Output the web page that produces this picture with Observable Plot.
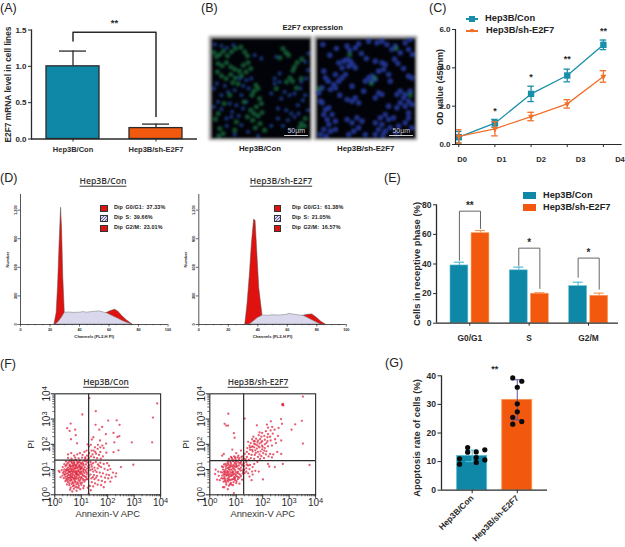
<!DOCTYPE html>
<html><head><meta charset="utf-8">
<script src="https://cdn.jsdelivr.net/npm/d3@7"></script>
<script src="https://cdn.jsdelivr.net/npm/@observablehq/plot@0.6"></script>
<style>
html,body{margin:0;padding:0;background:#fff}
#page{position:relative;width:625px;height:547px;overflow:hidden;font-family:"Liberation Sans",sans-serif;color:#222}
#page svg{position:absolute;background:transparent}
.t{position:absolute;white-space:nowrap;line-height:1}
.c{transform:translate(-50%,-50%)}
.l{transform:translateY(-50%)}
.b{font-weight:bold}
.u{font-family:"Open Sans",sans-serif;font-weight:600;text-decoration:underline;text-underline-offset:1.5px;color:#333}
</style></head><body><div id="page"></div>
<script>
// ---------- shared labels ----------
const groups = ["Hep3B/Con", "Hep3B/sh-E2F7"];
const teal = "#0f87a6", orange = "#f2590f", ink = "#2a2a2a";
const panelLetters = ["(A)", "(B)", "(C)", "(D)", "(E)", "(F)", "(G)"];

// ---------- A: E2F7 mRNA ----------
const mrnaMean = [1.0, 0.15];
const mrnaErr = [0.21, 0.055];

// ---------- B: micrographs, cell positions in the field (0-298 wide, 0-300 high) ----------
const conGreen = [[8,42],[15,55],[25,48],[36,38],[48,52],[60,40],[72,30],[88,26],[100,40],[108,52],[20,75],[32,82],[45,72],[58,85],[70,92],[84,98],[96,80],[110,72],[18,100],[30,112],[44,120],[58,108],[72,118],[90,112],[104,100],[118,90],[64,132],[80,136],[134,140],[140,150],[128,158],[122,170],[145,180],[150,195],[135,205],[118,215],[128,225],[140,232],[152,222],[108,235],[124,245],[146,255],[132,268],[160,275],[215,30],[224,42],[232,50],[206,58],[250,85],[245,96],[258,72],[272,62],[236,118],[226,130],[244,128],[256,148],[195,150],[270,120],[282,240],[270,255],[265,268],[280,262],[20,225],[12,242],[25,270],[35,285],[22,292],[75,250],[70,275],[55,170],[38,195],[98,190]];
const conBlue = [[10,18],[30,22],[46,28],[66,20],[130,50],[150,60],[195,55],[205,130],[190,135],[220,160],[235,170],[210,180],[180,165],[70,155],[50,160],[90,170],[85,120],[75,200],[55,195],[20,190],[30,170],[105,190],[95,210],[60,235],[45,240],[90,260],[70,288],[110,280],[140,292],[225,215],[240,225],[260,200],[275,185],[285,120],[270,130],[290,95],[230,245],[250,235],[180,262],[200,210],[8,150],[16,135],[40,142],[112,150],[96,142],[62,220],[82,232],[30,212],[46,262],[8,205],[200,240],[215,262],[240,275],[290,215],[262,225],[282,170],[250,165],[268,150],[205,105],[190,120],[282,70],[292,45],[120,120],[105,125]];
const shBlue = [[19,18],[92,23],[100,36],[127,16],[117,28],[157,8],[182,13],[197,8],[212,18],[227,33],[237,23],[252,43],[267,13],[277,33],[289,48],[282,3],[67,73],[82,68],[92,63],[102,68],[109,78],[117,88],[97,83],[77,88],[57,108],[22,98],[27,118],[35,128],[67,128],[77,118],[87,108],[52,138],[42,153],[57,148],[17,148],[7,163],[12,188],[177,68],[197,73],[207,78],[202,93],[187,98],[167,113],[157,118],[147,128],[177,123],[165,128],[217,108],[222,128],[107,143],[92,183],[107,188],[117,178],[127,193],[142,158],[187,163],[197,168],[177,178],[217,203],[242,168],[252,158],[267,168],[282,158],[287,118],[277,113],[262,178],[277,188],[287,198],[267,203],[252,193],[242,208],[277,223],[17,193],[27,213],[37,208],[22,228],[32,243],[47,228],[57,248],[37,258],[22,273],[42,278],[57,273],[12,288],[29,293],[92,243],[107,253],[122,238],[137,248],[127,268],[112,278],[97,288],[147,288],[177,253],[192,238],[207,228],[217,243],[232,238],[197,258],[187,273],[207,278],[222,268],[177,288],[247,263],[267,253],[277,238],[287,268],[200,290],[240,285],[70,170],[150,60],[135,45],[245,75],[262,90],[235,62],[40,50],[60,30]];
const shGreen = [[100,48],[175,118],[165,135],[282,170],[8,150],[240,30]];

// ---------- C: proliferation ----------
const days = ["D0", "D1", "D2", "D3", "D4"];
const odCon = [0.38, 1.11, 2.64, 3.6, 5.2];
const odConErr = [0.3, 0.2, 0.4, 0.33, 0.25];
const odSh = [0.42, 0.82, 1.46, 2.12, 3.55];
const odShErr = [0.35, 0.37, 0.22, 0.22, 0.3];
const odStars = ["", "*", "*", "**", "**"];
const odStarY = [null, 1.72, 3.5, 4.45, 5.9];

// ---------- D: cell-cycle histograms, [channel, number] ----------
const conG1 = [[23,0],[24.5,120],[25.5,420],[26.5,850],[27.5,1225],[28.2,1000],[29,500],[30,130],[30.2,0]];
const conS = [[24,0],[26,30],[28,72],[30,122],[33,126],[36,122],[40,124],[43,130],[45,124],[47,128],[50,132],[53,138],[56,128],[59,115],[62,92],[66,62],[70,32],[74,8],[76,0]];
const conG2 = [[58,118],[61,140],[64,155],[66,140],[69,88],[72,45],[76,0]];
const shG1 = [[31.5,0],[33,210],[34.5,500],[36,850],[37.5,1102],[38.5,1085],[39.5,800],[41,380],[43,120],[43.6,0]];
const shS = [[34.5,0],[37,30],[40,68],[43.5,95],[47,92],[50,96],[55,95],[59,100],[62,112],[64,104],[68,96],[71.4,88],[75,60],[79,28],[82.6,0]];
const shG2 = [[70,90],[74,102],[77,106],[80,72],[83,30],[86,0]];
const legendNames = ["Dip G0/G1:", "Dip  S:", "Dip G2/M:"];
const conPhases = ["37.33%", "39.66%", "23.01%"];
const shPhases = ["61.38%", "21.05%", "16.57%"];

// ---------- E: receptive phase ----------
const phases = ["G0/G1", "S", "G2/M"];
const phaseCon = [39, 35.7, 25];
const phaseConTop = [41.2, 37.9, 27.7];
const phaseSh = [60.8, 19.9, 18.5];
const phaseShTop = [62.6, 20.6, 20.3];
const bracketTop = [75.7, 50.7, 44];
const bracketConEnd = [42.5, 39, 31];
const bracketShEnd = [64, 23.5, 23];
const bracketStars = ["**", "*", "*"];

// ---------- F: flow cytometry, [log10 Annexin-V, log10 PI] ----------
const conFlow = [[1.31,3.83],[3.87,3.62],[1.55,3.31],[1.04,3.18],[3.71,3.06],[2.02,2.94],[2.34,2.95],[2.45,2.77],[1.54,2.77],[1.79,2.69],[1.68,2.58],[.6,2.82],[.47,2.64],[.56,2.53],[.77,2.58],[.79,2.36],[.61,2.2],[.84,2.04],[1.93,2.4],[2.22,2.45],[2.37,2.29],[2.44,2.32],[1.46,2.28],[1.4,2.19],[1.71,2.15],[1.94,2.03],[2.25,2.08],[2.91,2.08],[3.68,2.08],[2.97,1.19],[2.5,1.1],
[1.24,2.0],[1.29,1.92],[1.36,1.98],[1.52,1.88],[1.63,1.98],[1.8,1.95],[1.72,1.88],[1.85,1.85],[1.62,1.82],[1.47,1.75],[1.39,1.75],[1.53,1.7],[1.72,1.7],[1.95,1.67],[2.22,1.69],[2.41,1.76],[1.56,1.63],[1.67,1.58],[1.82,1.52],[1.43,1.6],[1.3,1.65],[1.2,1.75],[1.12,1.7],[1.22,1.55],[1.37,1.52],[1.48,1.48],[1.6,1.45],[1.74,1.43],[1.28,1.45],[1.15,1.48],[1.05,1.58],[.95,1.65],[.85,1.6],[.62,1.65],[.5,1.6],[.73,1.55],
[1.35,1.3],[1.45,1.25],[1.55,1.3],[1.63,1.2],[1.72,1.27],[1.85,1.22],[1.98,1.25],[2.05,1.15],[1.4,1.12],[1.5,1.08],[1.62,1.05],[1.75,1.1],[1.88,1.03],[2.0,.98],[2.1,1.02],[1.35,.98],[1.45,.92],[1.58,.9],[1.7,.88],[1.82,.85],[1.95,.8],[2.05,.78],[2.2,.88],[2.32,.85],[2.3,.72],[2.15,.68],[2.02,.65],[1.9,.68],[1.75,.72],[1.6,.75],[1.48,.78],[1.35,.8],[1.38,.65],[1.5,.62],[1.65,.58],[1.78,.55],[1.9,.5],[2.1,.52],[1.4,.5],[1.52,.45],[1.62,.4],[1.75,.38],[1.85,.3],[1.45,.33],[1.33,.35],[1.36,.18],[1.28,.05],[1.25,.28],
[.5,1.46],[.63,1.43],[.77,1.47],[.9,1.44],[1.03,1.47],[1.15,1.42],[1.25,1.38],[.42,1.32],[.55,1.35],[.64,1.29],[.73,1.34],[.84,1.31],[.95,1.36],[1.05,1.29],[1.12,1.34],[1.24,1.28],[.36,1.21],[.48,1.24],[.57,1.19],[.66,1.24],[.75,1.18],[.85,1.23],[.92,1.17],[1.01,1.22],[1.09,1.16],[1.18,1.2],[1.29,1.17],[.3,1.1],[.41,1.13],[.5,1.08],[.59,1.12],[.68,1.07],[.78,1.11],[.86,1.06],[.96,1.1],[1.05,1.05],[1.14,1.09],[1.22,1.04],[1.31,1.08],[.26,.98],[.36,1.01],[.45,.96],[.54,1.0],[.63,.95],[.72,.99],[.81,.94],[.9,.98],[.99,.93],[1.08,.97],[1.17,.92],[1.27,.96],[.18,.9],[.31,.87],[.4,.9],[.49,.85],[.58,.89],[.67,.84],[.76,.88],[.85,.83],[.94,.87],[1.03,.82],[1.12,.86],[1.21,.81],[.29,.76],[.38,.79],[.47,.74],[.56,.78],[.65,.73],[.74,.77],[.83,.72],[.92,.76],[1.01,.71],[1.1,.75],[1.19,.7],[1.28,.74],[.34,.66],[.43,.63],[.52,.67],[.61,.62],[.7,.66],[.79,.61],[.88,.65],[.97,.6],[1.06,.64],[1.15,.59],[1.25,.62],[.4,.54],[.49,.51],[.58,.55],[.67,.5],[.76,.54],[.85,.49],[.94,.53],[1.03,.48],[1.12,.52],[.46,.41],[.55,.38],[.64,.43],[.73,.37],[.82,.41],[.91,.36],[1.0,.4],[1.1,.35],[.6,.28],[.72,.24],[.84,.29],[.96,.22],[1.08,.26],[.58,.2],[.66,.13],[.82,.16],[.15,.95],[.22,.7],
[.55,1.15],[.62,1.02],[.7,1.15],[.77,1.03],[.83,1.13],[.88,.95],[.61,.83],[.7,.92],[.79,.82],[.55,.92],[.46,1.03],[.66,.69],[.75,.66],[.84,.78],[.93,.69],[.6,.7],[.52,.6],[.98,1.02],[1.02,1.12],[.72,1.25],[.8,1.38],[.98,1.25],
[.44,1.18],[.52,1.28],[.6,1.33],[.68,1.16],[.74,1.27],[.8,1.18],[.88,1.27],[.94,1.14],[1.0,1.06],[.62,1.12],[.5,.98],[.58,1.05],[.66,.99],[.74,1.06],[.82,1.05],[.9,1.1],[.96,1.03],[1.1,1.01],[.34,.93],[.42,.98],[.52,.91],[.6,.92],[.68,.9],[.76,.93],[.84,.9],[.92,.92],[1.0,.88],[1.07,.91],[.36,.82],[.44,.84],[.52,.79],[.6,.76],[.68,.79],[.76,.72],[.81,.86],[.89,.8],[.97,.83],[1.06,.78],[.4,.71],[.48,.68],[.56,.68],[.63,.58],[.72,.6],[.81,.66],[.9,.58],[.99,.67],[1.08,.58],[.46,.58],[.55,.46],[.7,.45],[.78,.49],[.88,.44],[.97,.46],[.68,.34],[.78,.31],[.9,.28],[1.16,.98],[1.14,.72],[1.2,.62],[1.22,.88],[1.26,1.12],[.93,1.3],[1.08,1.22],[.66,1.36],[1.18,1.32],[1.38,1.2],[1.42,1.02],[1.53,.97],[1.68,1.14],[1.44,.7],[1.56,.68]];
const shFlow = [[3.52,3.89],[2.76,3.6],[2.74,3.56],[2.78,3.54],[2.76,3.58],[.7,3.21],[1.32,3.02],[.56,2.81],[.62,2.74],[.69,2.74],[1.78,2.75],[.91,2.44],[.94,2.26],[2.31,2.91],[2.69,3.0],[2.73,2.81],[3.48,2.93],[3.23,2.79],[3.09,2.58],[3.52,2.03],[3.77,1.18],[2.76,1.22],[2.46,1.1],[2.01,.61],[.91,.07],[.5,.3],[.85,1.79],[.53,1.62],[.47,1.55],
[2.16,2.78],[2.2,2.66],[2.36,2.69],[2.6,2.65],[2.45,2.58],[2.3,2.55],[2.12,2.52],[1.98,2.45],[1.88,2.47],[2.2,2.4],[2.38,2.42],[2.18,2.28],[2.06,2.33],[1.95,2.3],[1.85,2.36],[1.75,2.22],[1.65,2.3],[2.47,2.2],[2.58,2.33],[2.7,2.15],[2.5,2.05],[2.3,2.15],[2.18,2.12],[2.08,2.18],[1.98,2.12],[1.9,2.2],[1.8,2.08],[1.7,2.12],[1.6,2.2],[1.55,2.05],[1.68,2.02],[1.78,1.97],[1.88,2.03],[1.97,1.95],[2.08,2.0],[2.2,1.92],[2.35,1.95],[1.45,2.1],[1.5,1.95],[1.58,1.9],[1.68,1.88],[1.78,1.83],[1.88,1.88],[1.98,1.8],[2.08,1.85],[1.42,1.85],[1.52,1.78],[1.62,1.72],[1.72,1.76],[1.82,1.7],[1.92,1.72],[2.02,1.65],[2.14,1.72],[2.28,1.62],[2.4,1.6],[2.55,1.7],[2.7,1.62],[2.35,1.48],[2.22,1.52],[2.12,1.6],[1.4,1.7],[1.48,1.62],[1.58,1.58],[1.7,1.58],[1.82,1.5],[1.95,1.53],[1.32,1.62],[1.25,1.52],[1.4,1.5],[1.55,1.45],[1.68,1.42],[1.3,1.42],[1.18,1.75],[1.08,1.55],[1.0,1.65],[1.9,1.42],[2.05,1.45],
[1.68,1.22],[1.8,1.3],[2.2,1.22],[2.25,1.12],[1.4,1.2],[1.52,1.18],[1.62,1.1],[1.5,1.02],[1.72,.95],[1.85,.92],[1.45,.85],[1.62,.8],[1.3,.98],[1.38,.92],
[.8,1.5],[.92,1.52],[1.05,1.48],[.72,1.42],[.85,1.4],[.97,1.42],[1.1,1.38],[1.22,1.4],[.68,1.32],[.78,1.3],[.88,1.33],[.98,1.3],[1.08,1.28],[1.18,1.3],[1.28,1.25],[1.38,1.3],[.6,1.22],[.7,1.2],[.8,1.24],[.9,1.18],[1.0,1.22],[1.1,1.16],[1.2,1.2],[1.3,1.14],[.5,1.1],[.6,1.12],[.68,1.06],[.78,1.1],[.88,1.06],[.98,1.1],[1.08,1.04],[1.18,1.08],[1.28,1.03],[.22,1.0],[.32,.92],[.5,1.0],[.58,.98],[.66,.94],[.76,.99],[.86,.94],[.96,.98],[1.06,.92],[1.16,.96],[1.26,.9],[.2,.82],[.48,.88],[.56,.84],[.64,.88],[.74,.83],[.84,.87],[.94,.82],[1.04,.86],[1.14,.8],[1.24,.84],[.47,.76],[.55,.72],[.63,.76],[.72,.7],[.82,.74],[.92,.7],[1.02,.74],[1.12,.68],[.5,.64],[.58,.6],[.67,.64],[.76,.58],[.86,.62],[.96,.58],[1.06,.62],[.52,.52],[.62,.48],[.7,.53],[.8,.47],[.9,.5],[1.0,.46],[.62,.4],[.72,.36],[.82,.4],[.7,.92],[.72,1.02],[.82,1.0],[.92,1.02],[.9,.9],[.8,.8],[.7,.78],[.6,.8],[.54,.92],[.62,1.04],[.98,.8],[1.0,1.16],[.86,1.12],[.76,1.16],[.95,.66],[1.38,1.05],[1.5,.72],[1.58,.58],[1.6,.92],
[.74,1.36],[.83,1.46],[.96,1.48],[1.12,1.45],[.9,1.36],[1.02,1.35],[1.14,1.25],[1.24,1.16],[.94,1.25],[.82,1.16],[.72,1.1],[.93,1.12],[1.03,1.12],[1.13,1.02],[1.23,.97],[.58,.9],[.68,.86],[.78,.9],[.88,.84],[.99,.9],[1.09,.84],[.53,.8],[.66,.78],[.77,.74],[.87,.78],[.97,.72],[1.07,.7],[1.18,.74],[.56,.66],[.72,.62],[.82,.6],[.91,.62],[1.01,.54],[.58,.54],[.66,.56],[.76,.42],[.88,.38],[.68,1.26],[.64,1.16],[.54,1.2],[.46,1.12],[.42,.9],[.44,.66],[.38,.58],[.34,.75],[.28,.6],[.68,.22],[.55,.3],[1.36,1.4],[1.48,1.38],[1.2,1.5],[1.45,1.16],[1.32,.86],[1.22,.6],[1.12,.44],
[1.72,2.0],[1.62,1.92],[1.84,1.92],[1.74,1.66],[1.88,1.6],[2.0,1.9],[1.94,2.08],[2.14,2.05],[1.6,1.78],[1.52,1.87],[1.66,2.12],[1.82,2.14],[2.28,2.3],[2.06,1.75]];
const decadeTicks = [1, 10, 100, 1000, 10000];
const minorTicks = [2,3,4,5,6,7,8,9,20,30,40,50,60,70,80,90,200,300,400,500,600,700,800,900,2000,3000,4000,5000,6000,7000,8000,9000];
const decadeLabels = ["10⁰", "10¹", "10²", "10³", "10⁴"];

// ---------- G: apoptosis ----------
const apoMean = [12, 31.6];
const apoErr = [2, 7];
const apoConDots = [[-0.1,14.9],[-0.1,13.3],[0.09,13.4],[0.28,14.1],[-0.28,11],[-0.28,9.1],[0.09,11.4],[0.09,9.7],[0.28,10.6]];
const apoShDots = [[-0.1,39.3],[0.1,38.1],[0,36],[0,30.2],[0,27.4],[-0.1,25.5],[0.1,24],[-0.1,23.1]];

// ---------- helpers ----------
const page = document.getElementById("page");
function place(opts, left, top) {
  const el = Plot.plot({style: {background: "transparent", fontFamily: "Liberation Sans", color: ink}, ...opts});
  el.style.left = left + "px"; el.style.top = top + "px";
  page.append(el); return el;
}
function label(text, x, y, size, cls = "c", extra = "") {
  const d = document.createElement("div");
  d.className = "t " + cls; d.textContent = text;
  d.style.cssText = `left:${x}px;top:${y}px;font-size:${size}px;${extra}`;
  page.append(d); return d;
}
function swatch(x, y, w, h, css) {
  const d = document.createElement("div");
  d.style.cssText = `position:absolute;left:${x}px;top:${y}px;width:${w}px;height:${h}px;${css}`;
  page.append(d);
}
const boldAxis = {fontWeight: "bold", stroke: ink, label: null};
const sideTitle = (text, dx, fontSize, extra = {}) => Plot.text([text], {frameAnchor: "left", textAnchor: "middle", dx, rotate: -90, fontSize, fontWeight: "bold", fill: ink, ...extra});

// ---------- A ----------
const mrna = groups.map((g, i) => ({g, v: mrnaMean[i], top: mrnaMean[i] + mrnaErr[i]}));
place({
  width: 205, height: 165, marginLeft: 31, marginRight: 8, marginTop: 29.5, marginBottom: 26.5,
  x: {domain: groups, paddingInner: 0.36, paddingOuter: 0.18, axis: null},
  y: {domain: [0, 1.5], axis: null},
  marks: [
    Plot.ruleX(mrna, {x: "g", y1: "v", y2: "top", stroke: ink, strokeWidth: 1.3}),
    Plot.tickY(mrna, {x: "g", y: "top", stroke: ink, strokeWidth: 1.3, insetLeft: 13, insetRight: 13}),
    Plot.barY(mrna, {x: "g", y: "v", fill: (d, i) => [teal, orange][i], stroke: ink, strokeWidth: 1.3}),
    Plot.line([[groups[0], 1.35], [groups[0], 1.47], [groups[1], 1.47], [groups[1], 0.31]], {x: "0", y: "1", stroke: ink, strokeWidth: 1.5}),
    Plot.ruleY([0], {stroke: ink, strokeWidth: 1.3}),
    Plot.frame({anchor: "left", stroke: ink, strokeWidth: 1.3}),
    Plot.axisY({ticks: [0, 0.5, 1, 1.5], tickFormat: d => d.toFixed(1), tickSize: 3, tickPadding: 2, fontSize: 8, ...boldAxis}),
    Plot.axisX({tickSize: 3, tickPadding: 5, fontSize: 7.5, ...boldAxis}),
    sideTitle("E2F7 mRNA level in cell lines", -23, 8.4),
    Plot.text(["**"], {frameAnchor: "top", dy: -11, fontSize: 9.5, fontWeight: "bold", fill: ink})
  ]
}, 0, 0);

// ---------- B ----------
function micrograph(blue, green, left, blueFill, blueR, blueOp) {
  const el = place({
    width: 99, height: 100, margin: 0,
    x: {domain: [0, 298], axis: null}, y: {domain: [300, 0], axis: null},
    marks: [
      Plot.frame({fill: "#020308", stroke: "none"}),
      Plot.dot(blue, {x: "0", y: "1", r: blueR, fill: blueFill, fillOpacity: blueOp, stroke: "none"}),
      Plot.dot(green, {x: "0", y: "1", r: 2.6, fill: "#1f8a4e", fillOpacity: 0.55, stroke: "none"})
    ]
  }, left, 38);
  el.style.filter = "blur(0.8px)";
  el.style.boxShadow = "0 0 2px 2px #8d8d8d";
  // the scale bar stays sharp, in its own layer
  place({
    width: 99, height: 100, margin: 0,
    x: {domain: [0, 298], axis: null}, y: {domain: [300, 0], axis: null},
    marks: [
      Plot.ruleY([291], {x1: 220, x2: 292, stroke: "#cfcfcf", strokeWidth: 1}),
      Plot.text(["50µm"], {x: () => 255, y: () => 276, fill: "#c9c9c9", fontSize: 7})
    ]
  }, left, 38);
}
micrograph(conBlue, conGreen, 210.7, "#1a3a88", 2.2, 0.78);
micrograph(shBlue, shGreen, 315.7, "#24389a", 2.8, 0.85);
label("E2F7 expression", 312.7, 27.5, 7.6, "c b");
label(groups[0], 260, 148.5, 7.8, "c b");
label(groups[1], 365.7, 148.5, 7.8, "c b");

// ---------- C ----------
const od = days.map((d, i) => ({i, con: odCon[i], conE: odConErr[i], sh: odSh[i], shE: odShErr[i]}));
const odColor = "#1a8fa9", odOrange = "#f0702a";
function odSeries(key, errKey, color, symbol, r, rotate) {
  return [
    Plot.line(od, {x: "i", y: key, stroke: color, strokeWidth: 1.3}),
    Plot.ruleX(od, {x: "i", y1: d => d[key] - d[errKey], y2: d => d[key] + d[errKey], stroke: color, strokeWidth: 1.3}),
    Plot.ruleY(od, {y: d => d[key] + d[errKey], x1: d => d.i - 0.09, x2: d => d.i + 0.09, stroke: color, strokeWidth: 1.3}),
    Plot.ruleY(od, {y: d => d[key] - d[errKey], x1: d => d.i - 0.09, x2: d => d.i + 0.09, stroke: color, strokeWidth: 1.3}),
    Plot.dot(od, {x: "i", y: key, symbol, r, rotate, fill: color, stroke: "none"})
  ];
}
place({
  width: 210, height: 170, marginLeft: 40, marginRight: 3.3, marginTop: 29, marginBottom: 26,
  x: {domain: [-0.09, 4.52], axis: null},
  y: {domain: [0, 6], axis: null},
  marks: [
    ...odSeries("con", "conE", odColor, "square", 3.6, 0),
    ...odSeries("sh", "shE", odOrange, "triangle", 2.2, 180),
    Plot.ruleY([0], {stroke: ink, strokeWidth: 1.2}),
    Plot.ruleX([-0.09], {stroke: ink, strokeWidth: 1.2}),
    Plot.axisY({ticks: [0, 2, 4, 6], tickSize: 3, tickPadding: 2, fontSize: 8, ...boldAxis}),
    Plot.axisX({ticks: [0, 1, 2, 3, 4], tickSize: 3, tickFormat: () => "", ...boldAxis}),
    ...days.map((d, i) => Plot.text([d], {x: () => i, y: () => 0, dy: 14.7, dx: 3.4 + i * 3.3, fontSize: 7.6, fontWeight: "bold", fill: ink})),
    Plot.text(odStars.filter(s => s), {x: (d, i) => i + 1, y: (d, i) => odStarY[i + 1], fontSize: 9, fontWeight: "bold", fill: ink}),
    sideTitle("OD value (450nm)", -15, 9)
  ]
}, 415, 0);
swatch(466, 18.3, 12, 1.4, `background:${odColor}`);
swatch(469, 16, 6, 6, `background:${odColor}`);
label(groups[0], 485, 19.3, 9.3, "l b");
swatch(466, 30.3, 12, 1.4, `background:${odOrange}`);
swatch(470, 29, 4, 4, `background:${odOrange};clip-path:polygon(0 0,100% 0,50% 100%)`);
label(groups[1], 486, 31.3, 9.3, "l b");

// ---------- D ----------
const histTicksMinor = [5,10,15,25,30,35,45,50,55,65,70,75,85,90,95];
function histogram(g1, s, g2, left, marginLeft, width) {
  return place({
    width, height: 177, marginLeft, marginRight: width - marginLeft - 147.5, marginTop: 29, marginBottom: 18,
    x: {domain: [0, 100], axis: null}, y: {domain: [0, 1364], axis: null},
    marks: [
      Plot.areaY(g1, {x: "0", y: "1", fill: "#e0120f", stroke: "#555", strokeWidth: 0.5}),
      Plot.areaY(g2, {x: "0", y: "1", fill: "#e0120f", stroke: "#555", strokeWidth: 0.5}),
      Plot.areaY(s, {x: "0", y: "1", fill: "#d9d8ec", stroke: "#777", strokeWidth: 0.5}),
      Plot.ruleY([0], {stroke: ink, strokeWidth: 0.8}),
      Plot.ruleX([0], {stroke: ink, strokeWidth: 0.8}),
      Plot.axisX({ticks: [0, 20, 40, 60, 80, 100], tickSize: 2.5, tickPadding: 1, fontSize: 3.8, ...boldAxis, strokeWidth: 0.7}),
      Plot.axisX({ticks: histTicksMinor, tickSize: 1.3, tickFormat: () => "", ...boldAxis, strokeWidth: 0.5}),
      Plot.axisY({ticks: [0, 300, 600, 900, 1200], tickSize: 2.5, tickPadding: 1, tickRotate: -90, fontSize: 3.8, ...boldAxis, strokeWidth: 0.7}),
      sideTitle("Number", -13, 4.2),
      Plot.text(["Channels (FL2-H PI)"], {frameAnchor: "bottom", dy: 13, fontSize: 4.2, fontWeight: "bold", fill: ink})
    ]
  }, left, 165);
}
histogram(conG1, conS, conG2, 0, 20, 215);
histogram(shG1, shS, shG2, 178, 20.3, 190);
label(groups[0], 103, 181, 8.6, "c u");
label(groups[1], 281, 181, 8.6, "c u");
function phaseLegend(values, sx, tx) {
  const tops = [208, 218, 228];
  const fills = ["#e0120f", "repeating-linear-gradient(135deg,#d9d8ec 0 1.5px,#5a5aa0 1.5px 2.2px)", "#e0120f"];
  values.forEach((v, i) => {
    swatch(sx, tops[i] - 3.5, 7.5, 7, `background:${fills[i]};border:.5px solid #333;box-sizing:border-box`);
    label(legendNames[i] + " " + v, tx, tops[i], 5.4, "l b", "letter-spacing:.1px;word-spacing:1px");
  });
}
phaseLegend(conPhases, 100, 114);
phaseLegend(shPhases, 273.5, 292);

// ---------- E ----------
const tealBorder = "#56bcd3", orangeBorder = "#f89a58";
const phaseRows = phases.flatMap((p, i) => [
  {p, i, x1: i - 0.325, x2: i - 0.025, v: phaseCon[i], top: phaseConTop[i], c: teal, b: tealBorder},
  {p, i, x1: i + 0.03, x2: i + 0.33, v: phaseSh[i], top: phaseShTop[i], c: orange, b: orangeBorder}
]);
const brackets = phases.map((p, i) => [[i - 0.175, bracketConEnd[i]], [i - 0.175, bracketTop[i]], [i + 0.18, bracketTop[i]], [i + 0.18, bracketShEnd[i]]]);
place({
  width: 220, height: 185, marginLeft: 31, marginRight: 7, marginTop: 39.3, marginBottom: 27.3,
  x: {domain: [-0.561, 2.505], axis: null}, y: {domain: [0, 80], axis: null},
  marks: [
    Plot.ruleX(phaseRows, {x: d => (d.x1 + d.x2) / 2, y1: "v", y2: "top", stroke: "b", strokeWidth: 1.2}),
    Plot.ruleY(phaseRows, {y: "top", x1: d => (d.x1 + d.x2) / 2 - 0.085, x2: d => (d.x1 + d.x2) / 2 + 0.085, stroke: "b", strokeWidth: 1.2}),
    Plot.rectY(phaseRows, {x1: "x1", x2: "x2", y: "v", fill: "c", stroke: "b", strokeWidth: 0.6}),
    ...brackets.map(b => Plot.line(b, {x: "0", y: "1", stroke: "#666", strokeWidth: 1})),
    Plot.text(bracketStars, {x: (d, i) => i, y: (d, i) => bracketTop[i] + 3.8, fontSize: 10, fontWeight: "bold", fill: ink}),
    Plot.ruleY([0], {stroke: ink, strokeWidth: 1.3}),
    Plot.ruleX([-0.561], {stroke: ink, strokeWidth: 1.3}),
    Plot.axisY({ticks: [0, 20, 40, 60, 80], tickSize: 3, tickPadding: 2, fontSize: 8.6, ...boldAxis}),
    Plot.axisX({ticks: [0, 1, 2], tickFormat: i => phases[i], tickSize: 3, tickPadding: 9, fontSize: 8.4, ...boldAxis}),
    sideTitle("Cells in receptive phase (%)", -20, 9.4)
  ]
}, 405, 165);
swatch(523, 192, 13, 7, `background:${teal}`);
label(groups[0], 543, 196, 9.2, "l b");
swatch(523, 204, 13, 7, `background:${orange}`);
label(groups[1], 543, 208, 9.2, "l b");

// ---------- F ----------
function flow(points, vx, hy, left, marginLeft) {
  const w = 180;
  const el = place({
    width: w, height: 145, marginLeft, marginRight: w - marginLeft - 105.8, marginTop: 13.3, marginBottom: 30.7,
    x: {type: "log", domain: [1, 1e4], axis: null},
    y: {type: "log", domain: [1, 1e4], axis: null},
    marks: [
      Plot.dot(points, {x: d => 10 ** d[0], y: d => 10 ** d[1], r: 1.15, fill: "#dd1c36", fillOpacity: 0.72, stroke: "none"}),
      Plot.ruleX([10 ** vx], {stroke: ink, strokeWidth: 1.2}),
      Plot.ruleY([10 ** hy], {stroke: ink, strokeWidth: 1.2}),
      Plot.frame({stroke: "#3a3a3a", strokeWidth: 1.2}),
      Plot.axisX({ticks: decadeTicks, tickFormat: d => decadeLabels[Math.round(Math.log10(d))], tickSize: 3.5, tickPadding: 1, fontSize: 10, stroke: ink, label: null}),
      Plot.axisX({ticks: minorTicks, tickFormat: () => "", tickSize: 2, stroke: ink, label: null, strokeWidth: 0.7}),
      Plot.axisY({ticks: decadeTicks, tickFormat: d => decadeLabels[Math.round(Math.log10(d))], tickRotate: -90, tickSize: 3.5, tickPadding: 1, fontSize: 10, stroke: ink, label: null}),
      Plot.axisY({ticks: minorTicks, tickFormat: () => "", tickSize: 2, stroke: ink, label: null, strokeWidth: 0.7}),
      Plot.text(["Annexin-V APC"], {frameAnchor: "bottom", dy: 22.5, fontSize: 9.4, fill: "#333"}),
      sideTitle("PI", -24, 9.4, {fontWeight: "normal", fill: "#333"})
    ]
  }, left, 380);
  // raise the exponents of the decade labels as real superscripts
  const supers = "⁰¹²³⁴";
  el.querySelectorAll("text").forEach(t => {
    const s = t.textContent;
    if (s.length === 3 && s.startsWith("10") && supers.includes(s[2])) {
      const host = t.querySelector("tspan") || t;
      host.textContent = "10";
      const sup = document.createElementNS("http://www.w3.org/2000/svg", "tspan");
      sup.setAttribute("dy", "-3.5");
      sup.setAttribute("font-size", "7.5");
      sup.textContent = String(supers.indexOf(s[2]));
      t.append(sup);
    }
  });
  return el;
}
flow(conFlow, 1.28, 1.377, 0, 54.3);
flow(shFlow, 1.28, 1.35, 154.7, 54.3);
label(groups[0], 106, 381.7, 8.4, "c u");
label(groups[1], 258, 381.7, 8.4, "c u");

// ---------- G ----------
const apo = groups.map((g, i) => ({i, g, v: apoMean[i], e: apoErr[i], c: [teal, orange][i], b: [tealBorder, orangeBorder][i]}));
const apoDots = [...apoConDots.map(d => [d[0], d[1]]), ...apoShDots.map(d => [d[0] + 1, d[1]])];
const apoLine = ["#56bcd3", "#5a4f9f"];
place({
  width: 210, height: 202, marginLeft: 41, marginRight: 63, marginTop: 30.3, marginBottom: 57.3,
  x: {domain: [-0.68, 1.67], axis: null}, y: {domain: [0, 40], axis: null},
  marks: [
    Plot.rectY(apo, {x1: d => d.i - 0.333, x2: d => d.i + 0.333, y: "v", fill: "c", stroke: "b", strokeWidth: 0.8}),
    Plot.ruleX(apo, {x: "i", y1: d => d.v - d.e, y2: d => d.v + d.e, stroke: (d, i) => apoLine[i], strokeWidth: 1}),
    Plot.ruleY(apo, {y: d => d.v + d.e, x1: d => d.i - 0.14, x2: d => d.i + 0.14, stroke: (d, i) => apoLine[i], strokeWidth: 1}),
    Plot.ruleY(apo, {y: d => d.v - d.e, x1: d => d.i - 0.14, x2: d => d.i + 0.14, stroke: (d, i) => apoLine[i], strokeWidth: 1}),
    Plot.dot(apoDots, {x: "0", y: "1", r: 2.6, fill: "#0a0a0a", stroke: "none"}),
    Plot.ruleY([0], {stroke: ink, strokeWidth: 1.3}),
    Plot.ruleX([-0.68], {stroke: ink, strokeWidth: 1.3}),
    Plot.axisY({ticks: [0, 10, 20, 30, 40], tickSize: 3.5, tickPadding: 2, fontSize: 8.6, ...boldAxis}),
    Plot.axisX({ticks: [0, 1], tickFormat: i => groups[i], tickRotate: -45, tickSize: 3.5, tickPadding: 3, fontSize: 8.4, ...boldAxis}),
    sideTitle("Apoptosis rate of cells (%)", -25, 9.4, {dy: 5}),
    Plot.text(["**"], {x: () => 0.5, y: () => 42.4, fontSize: 9, fontWeight: "bold", fill: ink})
  ]
}, 400, 345);

// ---------- panel letters ----------
const letterPos = [[0, 8], [201, 8], [429, 8], [0, 178], [384, 178], [0, 364], [385, 363]];
panelLetters.forEach((t, i) => label(t, letterPos[i][0], letterPos[i][1], 12.5, "l"));
</script></body></html>
